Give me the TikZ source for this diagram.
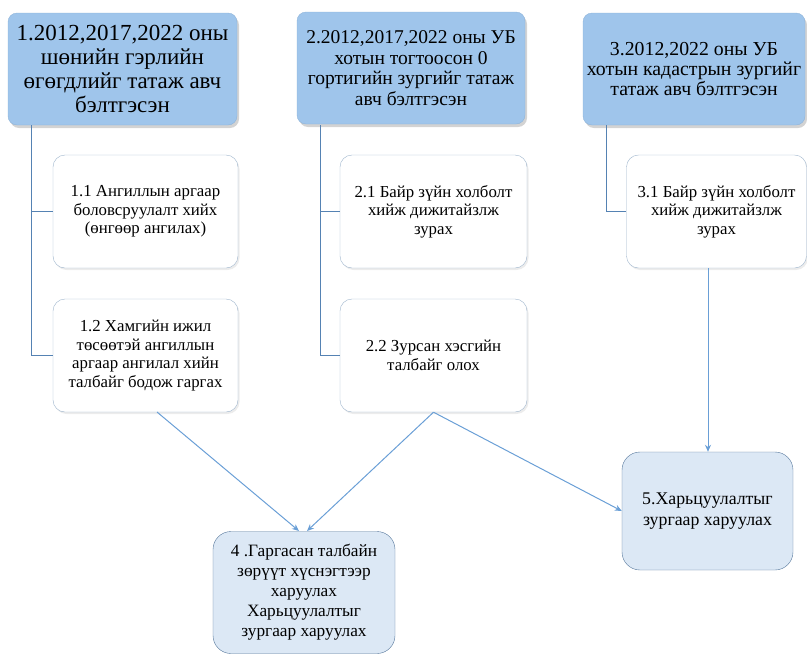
\documentclass[tikz,border=0pt]{standalone}
\usepackage{fontspec}
\setmainfont{Liberation Serif}
\usetikzlibrary{arrows.meta,shadows,calc}
\definecolor{topfill}{HTML}{9FC5EB}
\definecolor{topedge}{HTML}{8FB4DA}
\definecolor{subedge}{HTML}{9DB4CC}
\definecolor{botfill}{HTML}{DCE8F5}
\definecolor{botedge}{HTML}{56779B}
\definecolor{conn}{HTML}{5582B3}
\definecolor{arr}{HTML}{6A9FD6}
\tikzset{
  topbox/.style={draw=topedge, fill=topfill, rounded corners=9pt, align=center,
    inner sep=1pt, drop shadow={shadow xshift=2pt, shadow yshift=-3pt, opacity=0.35, fill=gray}},
  subbox/.style={draw=subedge, fill=white, rounded corners=12pt, align=center,
    minimum width=185pt, minimum height=113pt, inner sep=1pt,
    font=\fontsize{16.8}{18.5}\selectfont,
    drop shadow={shadow xshift=1.5pt, shadow yshift=-2pt, opacity=0.15, fill=gray}},
  botbox/.style={draw=botedge, fill=botfill, rounded corners=18pt, align=center, inner sep=1pt},
  link/.style={draw=conn, line width=1pt},
  arrow/.style={draw=arr, line width=1pt, -{Stealth[length=7pt,width=6pt]}},
}
\begin{document}
\begin{tikzpicture}[x=1pt,y=-1pt]
\useasboundingbox (0,0) rectangle (807,654);
% top boxes
\node[topbox, minimum width=229pt, minimum height=112pt,
  font=\fontsize{23}{24.3}\selectfont] (b1) at (122.5,69)
  {1.2012,2017,2022 оны\\ шөнийн гэрлийн\\ өгөгдлийг татаж авч\\ бэлтгэсэн};
\node[topbox, minimum width=228pt, minimum height=112pt,
  font=\fontsize{19.5}{20.7}\selectfont] (b2) at (411,68)
  {2.2012,2017,2022 оны УБ\\ хотын тогтоосон 0\\ гортигийн зургийг татаж\\ авч бэлтгэсэн};
\node[topbox, minimum width=222pt, minimum height=112pt,
  font=\fontsize{19.8}{19.8}\selectfont] (b3) at (694,69)
  {3.2012,2022 оны УБ\\ хотын кадастрын зургийг\\ татаж авч бэлтгэсэн};
% sub boxes
\node[subbox] (b11) at (145.5,211.5) {1.1 Ангиллын аргаар\\ боловсруулалт хийх\\ (өнгөөр ангилах)};
\node[subbox] (b12) at (145.5,355.5) {1.2 Хамгийн ижил\\ төсөөтэй ангиллын\\ аргаар ангилал хийн\\ талбайг бодож гаргах};
\node[subbox, minimum width=187pt] (b21) at (433.5,211.5) {2.1 Байр зүйн холболт\\ хийж дижитайзлж\\ зурах};
\node[subbox, minimum width=187pt] (b22) at (433.5,355.5) {2.2 Зурсан хэсгийн\\ талбайг олох};
\node[subbox, minimum width=180pt] (b31) at (716.5,211.5) {3.1 Байр зүйн холболт\\ хийж дижитайзлж\\ зурах};
% bottom boxes
\node[botbox, minimum width=182pt, minimum height=122pt,
  font=\fontsize{17.3}{20}\selectfont] (b4) at (304,592.5)
  {4 .Гаргасан талбайн\\ зөрүүт хүснэгтээр\\ харуулах\\ Харьцуулалтыг\\ зургаар харуулах};
\node[botbox, minimum width=171pt, minimum height=118pt,
  font=\fontsize{17.8}{21}\selectfont] (b5) at (707.5,511)
  {5.Харьцуулалтыг\\ зургаар харуулах};
% tree connectors
\coordinate (c1) at (31,125);
\coordinate (c2) at (320,125);
\coordinate (c3) at (606,125);
\draw[link] (c1) -- (c1 |- b12.west) -- (b12.west);
\draw[link] (c1 |- b11.west) -- (b11.west);
\draw[link] (c2) -- (c2 |- b22.west) -- (b22.west);
\draw[link] (c2 |- b21.west) -- (b21.west);
\draw[link] (c3) -- (c3 |- b31.west) -- (b31.west);
% arrows
\coordinate (s12) at (157,412);
\coordinate (t4a) at (299,531);
\coordinate (t4b) at (307,531);
\coordinate (s31) at (708,268);
\draw[arrow] (s12) -- (t4a);
\draw[arrow] (b22.south) -- (t4b);
\draw[arrow] (b22.south) -- (b5.west);
\draw[arrow] (s31) -- (s31 |- b5.north);
\end{tikzpicture}
\end{document}
